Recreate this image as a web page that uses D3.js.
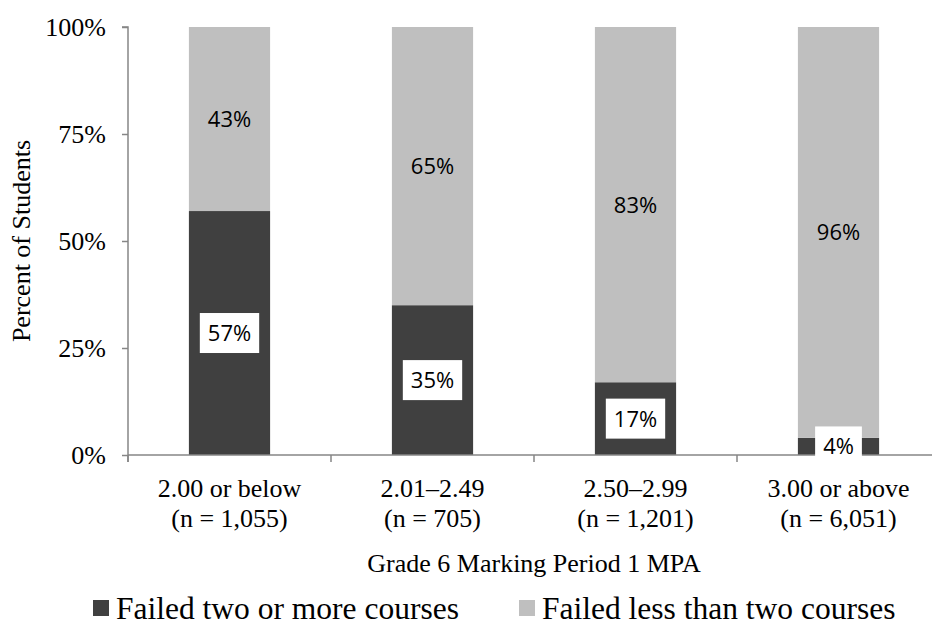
<!DOCTYPE html>
<html lang="en">
	<head>
		<meta charset="utf-8">
		<title>Course failures by Grade 6 MPA</title>
		<script src="https://cdn.jsdelivr.net/npm/d3@7"></script>
		<style>
			body { margin: 0; background: #fff; }
			.serif { font-family: "Liberation Serif", "Times New Roman", serif; fill: #000; }
			.lbl { font-family: "Open Sans", sans-serif; font-size: 22px; fill: #000; }
		</style>
	</head>
	<body>
		<script>

			//Data
			var categories = ["2.00 or below", "2.01\u20132.49", "2.50\u20132.99", "3.00 or above"];
			var counts = ["(n = 1,055)", "(n = 705)", "(n = 1,201)", "(n = 6,051)"];
			var failedTwoOrMore = [57, 35, 17, 4];
			var failedLessThanTwo = [43, 65, 83, 96];
			var yTicks = [0, 25, 50, 75, 100];
			var seriesNames = ["Failed two or more courses", "Failed less than two courses"];
			var colors = ["#404040", "#bfbfbf"];

			var w = 932, h = 627;
			var plotLeft = 128, plotTop = 27, plotBottom = 455, band = 203;

			var rows = categories.map(function(c, i) {
				return { cat: c, a: failedTwoOrMore[i], b: failedLessThanTwo[i] };
			});

			var stack = d3.stack().keys(["a", "b"]);
			var series = stack(rows);

			var xScale = d3.scaleBand()
				.domain(categories)
				.range([plotLeft, plotLeft + band * categories.length])
				.paddingInner(0.6)
				.paddingOuter(0.3);

			var yScale = d3.scaleLinear()
				.domain([0, 100])
				.range([plotBottom, plotTop]);

			var svg = d3.select("body").append("svg")
				.attr("width", w)
				.attr("height", h);

			//Bars
			svg.selectAll("g.series")
				.data(series)
				.enter()
				.append("g")
				.attr("class", "series")
				.attr("fill", function(d, i) { return colors[i]; })
				.selectAll("rect")
				.data(function(d) { return d; })
				.enter()
				.append("rect")
				.attr("x", function(d) { return xScale(d.data.cat); })
				.attr("y", function(d) { return yScale(d[1]); })
				.attr("width", xScale.bandwidth())
				.attr("height", function(d) { return yScale(d[0]) - yScale(d[1]); });

			//Y axis
			var yAxis = d3.axisLeft(yScale)
				.tickValues(yTicks)
				.tickSize(6)
				.tickPadding(16)
				.tickFormat(function(d) { return d + "%"; });

			var gy = svg.append("g")
				.attr("transform", "translate(" + plotLeft + ",0)")
				.call(yAxis);
			gy.select(".domain").attr("stroke", "#868686").attr("stroke-width", 1.5)
				.attr("d", "M-6," + plotTop + "H0V" + (plotBottom + 7));
			gy.selectAll(".tick line").attr("stroke", "#868686").attr("stroke-width", 1.5);
			gy.selectAll(".tick text")
				.attr("class", "serif")
				.style("font-size", "26px")
				.attr("dy", "0.34em");

			//X axis (category boundaries)
			var bounds = d3.range(categories.length + 1).map(function(i) { return plotLeft + i * band; });
			svg.append("line")
				.attr("x1", plotLeft).attr("x2", plotLeft + band * categories.length)
				.attr("y1", plotBottom).attr("y2", plotBottom)
				.attr("stroke", "#868686").attr("stroke-width", 1.5);
			svg.selectAll("line.xtick")
				.data(bounds)
				.enter()
				.append("line")
				.attr("class", "xtick")
				.attr("x1", function(d) { return d; }).attr("x2", function(d) { return d; })
				.attr("y1", plotBottom).attr("y2", plotBottom + 7)
				.attr("stroke", "#868686").attr("stroke-width", 1.5);

			//Category labels
			var catG = svg.selectAll("text.cat")
				.data(categories)
				.enter()
				.append("text")
				.attr("class", "serif")
				.attr("text-anchor", "middle")
				.style("font-size", "26px")
				.attr("x", function(d) { return xScale(d) + xScale.bandwidth() / 2; })
				.attr("y", 497);
			catG.append("tspan").text(function(d) { return d; });
			catG.append("tspan")
				.attr("x", function(d) { return xScale(d) + xScale.bandwidth() / 2; })
				.attr("dy", 30)
				.text(function(d, i) { return counts[i]; });

			//Axis titles
			svg.append("text")
				.attr("class", "serif")
				.attr("text-anchor", "middle")
				.style("font-size", "26px")
				.attr("x", plotLeft + band * 2)
				.attr("y", 572)
				.text("Grade 6 Marking Period 1 MPA");

			svg.append("text")
				.attr("class", "serif")
				.attr("text-anchor", "middle")
				.style("font-size", "26px")
				.attr("transform", "translate(30," + ((plotTop + plotBottom) / 2) + ") rotate(-90)")
				.text("Percent of Students");

			//Labels on light segments
			svg.selectAll("text.light")
				.data(series[1])
				.enter()
				.append("text")
				.attr("class", "lbl")
				.attr("text-anchor", "middle")
				.attr("x", function(d) { return xScale(d.data.cat) + xScale.bandwidth() / 2; })
				.attr("y", function(d) { return (yScale(d[0]) + yScale(d[1])) / 2; })
				.attr("dy", "0.36em")
				.text(function(d) { return d.data.b + "%"; });

			//Boxed labels on dark segments
			var dl = svg.selectAll("g.dark")
				.data(series[0])
				.enter()
				.append("g")
				.attr("transform", function(d) {
					return "translate(" + (xScale(d.data.cat) + xScale.bandwidth() / 2) + "," +
						((yScale(d[0]) + yScale(d[1])) / 2) + ")";
				});
			dl.append("text")
				.attr("class", "lbl")
				.attr("text-anchor", "middle")
				.attr("dy", "0.36em")
				.text(function(d) { return d.data.a + "%"; });
			dl.insert("rect", "text")
				.attr("fill", "#fff")
				.each(function() {
					var bb = this.parentNode.querySelector("text").getBBox();
					d3.select(this)
						.attr("x", -bb.width / 2 - 8)
						.attr("width", bb.width + 16)
						.attr("y", -20)
						.attr("height", 40);
				});

			//Legend
			var legX = [93, 519];
			var leg = svg.selectAll("g.leg")
				.data(seriesNames)
				.enter()
				.append("g")
				.attr("transform", function(d, i) { return "translate(" + legX[i] + ",600)"; });
			leg.append("rect")
				.attr("width", 16).attr("height", 16)
				.attr("fill", function(d, i) { return colors[i]; });
			leg.append("text")
				.attr("class", "serif")
				.style("font-size", "31.5px")
				.attr("x", 23)
				.attr("y", 19)
				.text(function(d) { return d; });

		</script>
	</body>
</html>
